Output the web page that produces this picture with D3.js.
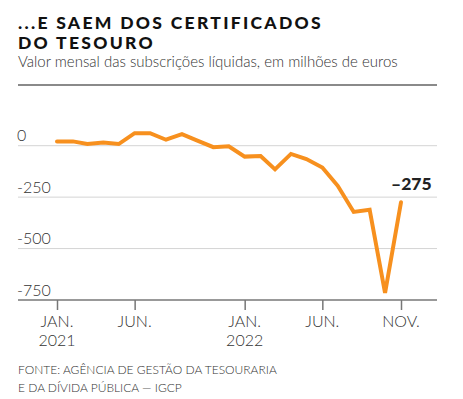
<!doctype html>
<html>
  <head>
    <meta charset="utf-8">
    <script src="https://cdnjs.cloudflare.com/ajax/libs/d3/7.8.5/d3.min.js"></script>
  <style>
    body { margin: 0; background: #fff; }
    svg { display: block; }
    text { font-family: Lato, "Open Sans", sans-serif; fill: #222; }
    .title { font-weight: 900; font-size: 17.5px; letter-spacing: 2.3px; fill: #111; }
    .sub { font-weight: 300; font-size: 15px; fill: #333; }
    .grid line { stroke: #d4d4d4; stroke-width: 1; }
    .ylab { font-weight: 300; font-size: 16px; fill: #333; }
    .xlab { font-weight: 300; font-size: 16px; fill: #333; }
    .src { font-weight: 300; font-size: 12px; fill: #333; }
    path.series { fill: none; stroke: #f7901e; stroke-width: 4; stroke-linejoin: miter; stroke-linecap: round; }
  </style>
  </head>
  <body>
    <svg width="463" height="399"></svg>
    <script>
      // meses de jan. 2021 a nov. 2022
      var months = d3.range(23).map(i => new Date(2021, i, 1));
      var values = [21, 21, 8, 15, 8, 61, 61, 29, 56, 25, -7, -3,
                    -53, -50, -115, -40, -65, -106, -195, -322, -311, -716, -275];
      var yTicks = [0, -250, -500, -750];
      var xTicks = [new Date(2021, 0, 1), new Date(2021, 5, 1), new Date(2022, 0, 1), new Date(2022, 5, 1), new Date(2022, 10, 1)];
      var xTickLabels = [["JAN.", "2021"], ["JUN."], ["JAN.", "2022"], ["JUN."], ["NOV."]];

      var svg = d3.select("svg");

      svg.append("text").attr("class", "title").attr("x", 18).attr("y", 29).text("...E SAEM DOS CERTIFICADOS");
      svg.append("text").attr("class", "title").attr("x", 18).attr("y", 49).text("DO TESOURO");
      svg.append("text").attr("class", "sub").attr("x", 18).attr("y", 67).text("Valor mensal das subscrições líquidas, em milhões de euros");
      svg.append("line").attr("x1", 18).attr("x2", 437).attr("y1", 85).attr("y2", 85)
        .attr("stroke", "#8a8a8a").attr("stroke-width", 2);

      var xScale = d3.scaleTime().domain([months[0], months[22]]).range([57, 401]);
      var yScale = d3.scaleLinear().domain([0, -750]).range([145.7, 300]);

      var grid = svg.append("g").attr("class", "grid");
      grid.selectAll("line").data(yTicks.slice(0, 3)).join("line")
        .attr("x1", 18).attr("x2", 437)
        .attr("y1", d => yScale(d)).attr("y2", d => yScale(d));

      svg.selectAll("text.ylab").data(yTicks).join("text")
        .attr("class", "ylab")
        .attr("x", 17)
        .attr("y", d => yScale(d) - 4.5)
        .text(d => d);

      // eixo x
      var xAxis = d3.axisBottom(xScale).tickValues(xTicks).tickSize(10).tickFormat("");
      var xg = svg.append("g").attr("transform", "translate(0," + yScale(-750) + ")").call(xAxis);
      xg.select(".domain").remove();
      xg.selectAll(".tick line").attr("stroke", "#777").attr("stroke-width", 1.5);
      svg.append("line").attr("x1", 18).attr("x2", 437)
        .attr("y1", yScale(-750)).attr("y2", yScale(-750))
        .attr("stroke", "#777").attr("stroke-width", 1.5);

      xTicks.forEach((t, i) => {
        xTickLabels[i].forEach((s, j) => {
          svg.append("text").attr("class", "xlab")
            .attr("x", xScale(t)).attr("y", 327 + j * 19)
            .attr("text-anchor", "middle").text(s);
        });
      });

      var line = d3.line()
        .x((d, i) => xScale(months[i]))
        .y(d => yScale(d));
      svg.append("path").attr("class", "series").attr("d", line(values));

      svg.append("text")
        .attr("x", xScale(months[22]) - 10).attr("y", 190)
        .attr("font-weight", 900).attr("font-size", "17.5px").attr("fill", "#111")
        .text("\u2013" + Math.abs(values[22]));

      svg.append("text").attr("class", "src").attr("x", 18).attr("y", 374).text("FONTE: AGÊNCIA DE GESTÃO DA TESOURARIA");
      svg.append("text").attr("class", "src").attr("x", 18).attr("y", 392).text("E DA DÍVIDA PÚBLICA — IGCP");
    </script>
  </body>
</html>
